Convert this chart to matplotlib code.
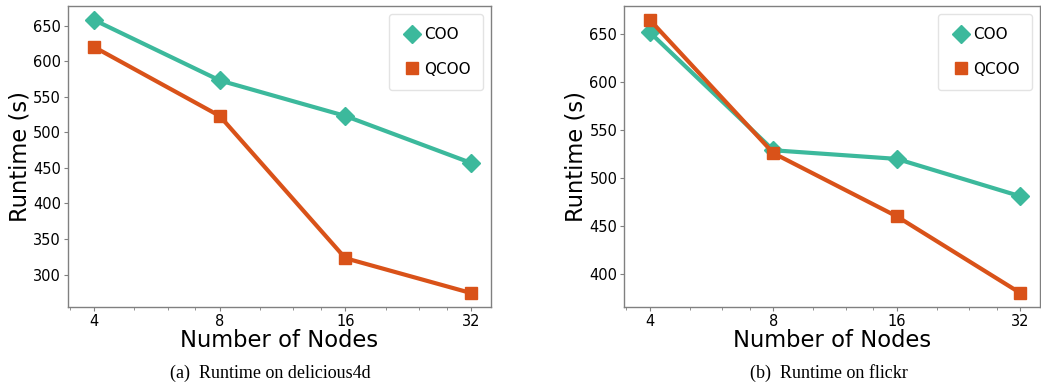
"""
Runtime vs. number of nodes, COO vs QCOO, two datasets side by side.
"""
import matplotlib
matplotlib.use("Agg")
import matplotlib.pyplot as plt
from matplotlib.lines import Line2D
from matplotlib.ticker import FixedLocator, FixedFormatter, LogLocator

plt.rcParams["font.family"] = ["DejaVu Sans"]

TEAL = "#3cb99c"
ORANGE = "#d95219"
SPINE = "#808080"

nodes = [4, 8, 16, 32]
node_labels = ["4", "8", "16", "32"]

coo_delicious = [658, 573, 523, 457]
qcoo_delicious = [620, 523, 323, 274]

coo_flickr = [652, 529, 520, 481]
qcoo_flickr = [665, 526, 460, 380]

yticks_delicious = [300, 350, 400, 450, 500, 550, 600, 650]
yticks_flickr = [400, 450, 500, 550, 600, 650]

captions = ["(a)  Runtime on delicious4d", "(b)  Runtime on flickr"]

W, H = 1041, 387
fig = plt.figure(figsize=(W / 100, H / 100), dpi=100)

# axes boxes in pixels: left, top, right, bottom
boxes = [(68, 6.3, 491, 306.7), (624.3, 6.3, 1040, 306.7)]
caption_x = [270, 829]


def draw_panel(box, coo, qcoo, yticks, caption, cx):
    l, t, r, b = box
    ax = fig.add_axes([l / W, 1 - b / H, (r - l) / W, (b - t) / H])
    ax.plot(nodes, coo, color=TEAL, lw=3, marker="D", ms=9, zorder=3)
    ax.plot(nodes, qcoo, color=ORANGE, lw=3, marker="s", ms=9, zorder=3)

    ax.set_xscale("log", base=2)
    ax.set_xlim(4 * 2 ** (-26 / 125.5), 32 * 2 ** (20 / 125.5))
    ax.xaxis.set_major_locator(FixedLocator(nodes))
    ax.xaxis.set_major_formatter(FixedFormatter(node_labels))
    ax.xaxis.set_minor_locator(LogLocator(base=2, subs=[1.25, 1.5, 1.75]))
    ax.xaxis.set_minor_formatter(FixedFormatter([]))
    ax.set_yticks(yticks)

    ax.tick_params(axis="both", which="major", labelsize=10.5, length=3,
                   width=0.8, color=SPINE, pad=2)
    ax.tick_params(axis="x", which="minor", length=2, width=0.6, color=SPINE)
    for s in ax.spines.values():
        s.set_color(SPINE)
        s.set_linewidth(1.0)

    ax.set_xlabel("Number of Nodes", fontsize=16.3, labelpad=0)
    ax.set_ylabel("Runtime (s)", fontsize=16.3, labelpad=1)

    handles = [
        Line2D([], [], ls="none", marker="D", ms=9.5, color=TEAL, label="COO"),
        Line2D([], [], ls="none", marker="s", ms=9, color=ORANGE, label="QCOO"),
    ]
    ax.legend(handles=handles, loc="upper right", fontsize=11,
              labelspacing=1.3, borderpad=0.85, handlelength=1.2,
              handletextpad=0.2, borderaxespad=0.5,
              framealpha=0.8, edgecolor="#dddddd")

    fig.text(cx / W, 1 - 373 / H, caption, ha="center", va="center",
             fontsize=13, family="Liberation Serif")
    return ax


draw_panel(boxes[0], coo_delicious, qcoo_delicious, yticks_delicious,
           captions[0], caption_x[0])
draw_panel(boxes[1], coo_flickr, qcoo_flickr, yticks_flickr,
           captions[1], caption_x[1])

fig.savefig("out.png", dpi=100, facecolor="white")
